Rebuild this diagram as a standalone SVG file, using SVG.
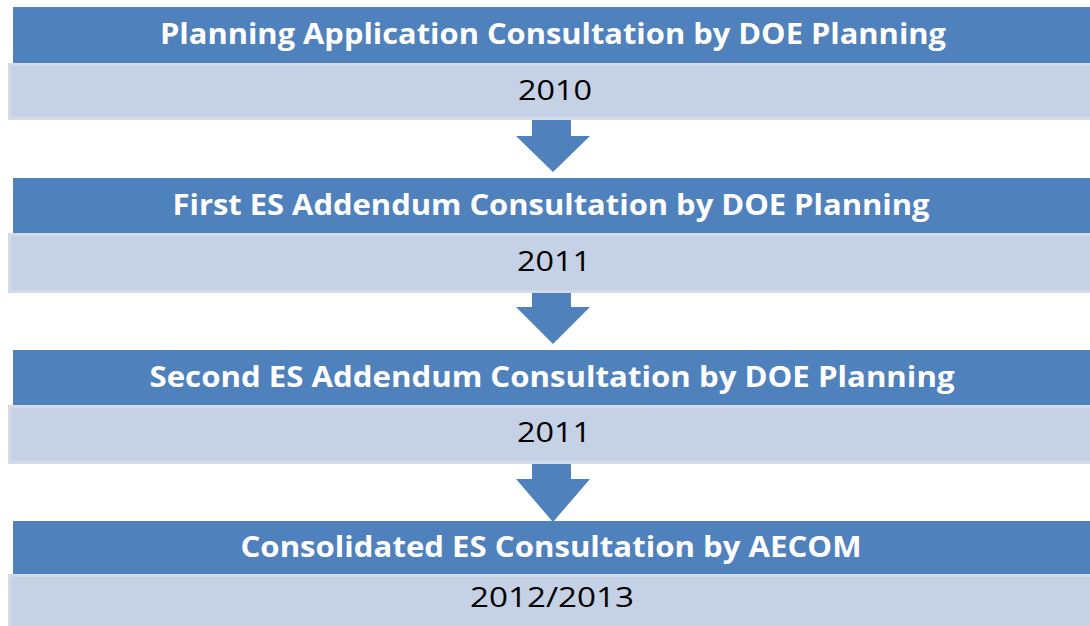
<svg xmlns="http://www.w3.org/2000/svg" width="1090" height="626" viewBox="0 0 1090 626">
<style>
.hdr{fill:#4F81BD}
.bar{fill:#C5D1E4;stroke:#D3DBE9;stroke-width:3}
.arr{fill:#4F81BD}
.t{font-family:"Open Sans","Liberation Sans",sans-serif;font-weight:bold;font-size:29px;fill:#FFFFFF;text-anchor:middle}
.y{font-family:"Open Sans","Liberation Sans",sans-serif;font-size:28px;fill:#000000;text-anchor:middle}
</style>
<rect width="1090" height="626" fill="#FFFFFF"/>
<g id="connectors">
<polygon class="arr" points="532,119 571,119 571,136 590,136 553,172 516,136 532,136"/>
<polygon class="arr" points="532,292 571,292 571,307 590,307 553,344 516,307 532,307"/>
<polygon class="arr" points="532,463 571,463 571,479 590,479 553,522 516,479 532,479"/>
</g>
<g id="node1">
<rect class="hdr" x="13" y="7" width="1080" height="56"/>
<text class="t" x="553" y="44" textLength="786" lengthAdjust="spacingAndGlyphs">Planning Application Consultation by DOE Planning</text>
<rect class="bar" x="9.5" y="64.5" width="1085" height="54"/>
<text class="y" x="555" y="100" textLength="74" lengthAdjust="spacingAndGlyphs">2010</text>
</g>
<g id="node2">
<rect class="hdr" x="13" y="178" width="1080" height="55"/>
<text class="t" x="551" y="215" textLength="757" lengthAdjust="spacingAndGlyphs">First ES Addendum Consultation by DOE Planning</text>
<rect class="bar" x="9.5" y="234.5" width="1085" height="57"/>
<text class="y" x="554" y="271" textLength="74" lengthAdjust="spacingAndGlyphs">2011</text>
</g>
<g id="node3">
<rect class="hdr" x="13" y="350" width="1080" height="55"/>
<text class="t" x="552" y="387" textLength="805" lengthAdjust="spacingAndGlyphs">Second ES Addendum Consultation by DOE Planning</text>
<rect class="bar" x="9.5" y="406.5" width="1085" height="56"/>
<text class="y" x="554" y="442" textLength="74" lengthAdjust="spacingAndGlyphs">2011</text>
</g>
<g id="node4">
<rect class="hdr" x="13" y="521" width="1080" height="53"/>
<text class="t" x="551" y="557" textLength="621" lengthAdjust="spacingAndGlyphs">Consolidated ES Consultation by AECOM</text>
<rect class="bar" x="9.5" y="575.5" width="1085" height="60"/>
<text class="y" x="552" y="607" textLength="164" lengthAdjust="spacingAndGlyphs">2012/2013</text>
</g>
</svg>
